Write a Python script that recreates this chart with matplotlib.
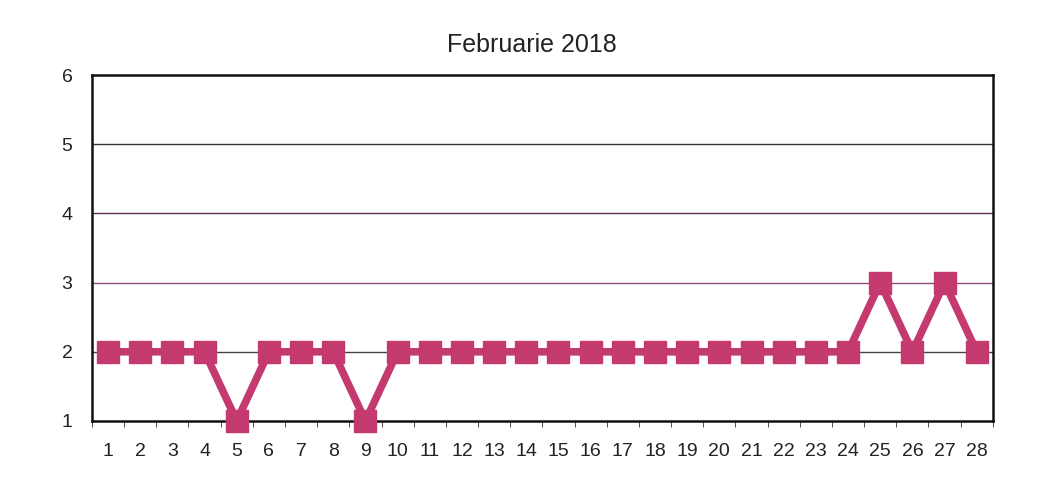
import matplotlib
matplotlib.use("Agg")
import matplotlib.pyplot as plt

days = list(range(1, 29))
values = [2, 2, 2, 2, 1, 2, 2, 2, 1, 2, 2, 2, 2, 2, 2, 2, 2, 2, 2, 2, 2, 2, 2, 2, 3, 2, 3, 2]
title = "Februarie 2018"
yticks = [1, 2, 3, 4, 5, 6]

plt.rcParams['font.family'] = ['Liberation Sans', 'DejaVu Sans']

fig = plt.figure(figsize=(10.44, 4.88), dpi=100)
ax = fig.add_axes([0.0881, 0.1373, 0.951 - 0.0881, 0.8463 - 0.1373])

grid_colors = {2: '#444444', 3: '#8a4a7a', 4: '#5a3050', 5: '#333333'}
for y, c in grid_colors.items():
    ax.axhline(y, color=c, linewidth=1.0, zorder=1)

ax.plot(days, values, color='#c43a6e', linewidth=5.5, marker='s', markersize=16,
        markerfacecolor='#c43a6e', markeredgecolor='#c43a6e', zorder=3, clip_on=False)

ax.set_xlim(0.5, 28.5)
ax.set_ylim(1, 6)
ax.set_yticks(yticks)
ax.set_yticklabels([str(v) for v in yticks], fontsize=14, color='#222222')
ax.set_xticks(days)
ax.set_xticklabels([str(d) for d in days], fontsize=14, color='#222222')
ax.set_xticks([d + 0.5 for d in [0] + days], minor=True)
ax.tick_params(axis='x', which='major', length=0, pad=16)
ax.tick_params(axis='x', which='minor', length=4, color='#333333')
ax.tick_params(axis='y', length=0, pad=14)

for s in ax.spines.values():
    s.set_color('#111111')
    s.set_linewidth(1.8)

fig.text(0.509, 0.907, title, ha='center', va='center', fontsize=18, color='#222222')

fig.savefig('out.png', dpi=100)
